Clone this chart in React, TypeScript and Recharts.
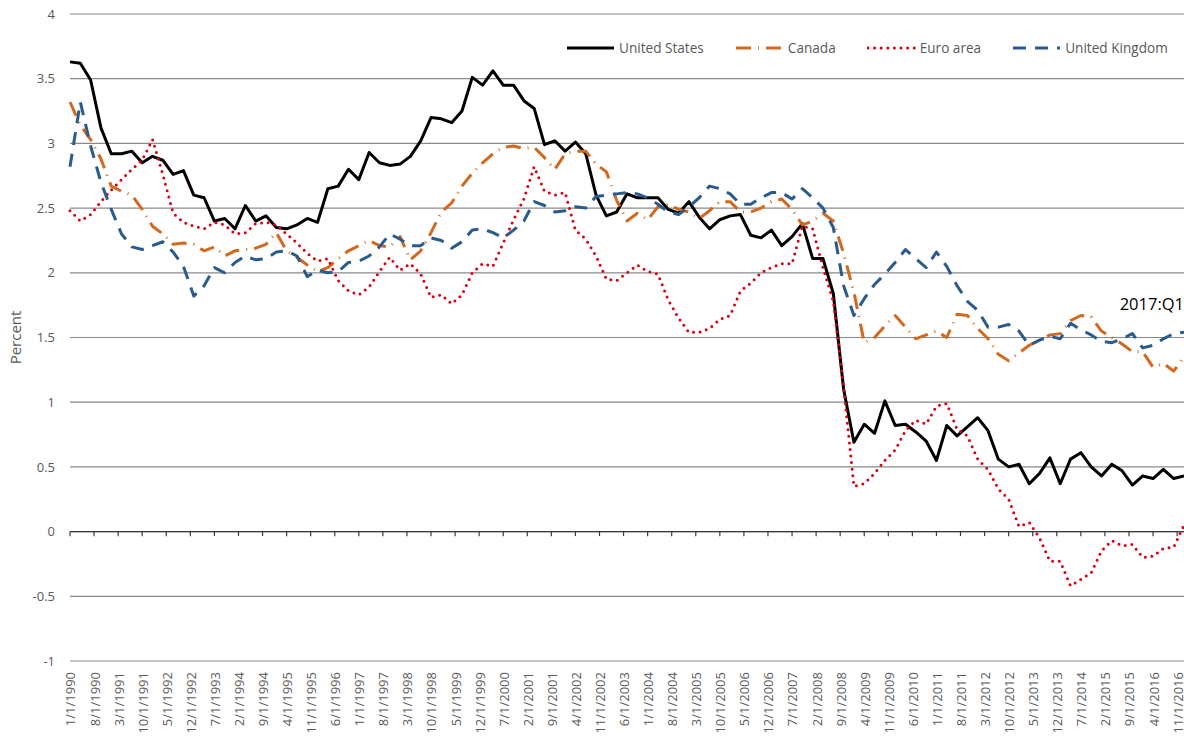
import {
  LineChart,
  Line,
  XAxis,
  YAxis,
  CartesianGrid,
  ReferenceLine,
  ReferenceDot,
} from "recharts";

// quarterly values, 1990:Q1 .. 2017:Q1 (percent)
const usValues = [
  3.63, 3.62, 3.49, 3.12, 2.92, 2.92, 2.94, 2.85, 2.9, 2.87, 2.76, 2.79, 2.6, 2.58, 2.4, 2.42,
  2.34, 2.52, 2.4, 2.44, 2.35, 2.34, 2.37, 2.42, 2.39, 2.65, 2.67, 2.8, 2.72, 2.93, 2.85, 2.83,
  2.84, 2.9, 3.02, 3.2, 3.19, 3.16, 3.25, 3.51, 3.45, 3.56, 3.45, 3.45, 3.33, 3.27, 2.99, 3.02,
  2.94, 3.01, 2.92, 2.6, 2.44, 2.47, 2.61, 2.58, 2.58, 2.58, 2.49, 2.46, 2.55, 2.43, 2.34, 2.41,
  2.44, 2.45, 2.29, 2.27, 2.33, 2.21, 2.28, 2.38, 2.11, 2.11, 1.84, 1.1, 0.69, 0.83, 0.76, 1.01,
  0.82, 0.83, 0.77, 0.7, 0.55, 0.82, 0.74, 0.81, 0.88, 0.78, 0.56, 0.5, 0.52, 0.37, 0.45, 0.57,
  0.37, 0.56, 0.61, 0.5, 0.43, 0.52, 0.47, 0.36, 0.43, 0.41, 0.48, 0.41, 0.43,
];

const canadaValues = [
  3.32, 3.14, 3.03, 2.88, 2.67, 2.63, 2.6, 2.49, 2.36, 2.3, 2.22, 2.23, 2.22, 2.17, 2.2, 2.13,
  2.17, 2.18, 2.19, 2.22, 2.31, 2.17, 2.12, 2.06, 2.01, 2.04, 2.11, 2.17, 2.21, 2.25, 2.21, 2.2,
  2.28, 2.1, 2.17, 2.31, 2.47, 2.54, 2.67, 2.77, 2.85, 2.92, 2.97, 2.98, 2.96, 2.97, 2.89, 2.8,
  2.92, 2.94, 2.94, 2.84, 2.78, 2.56, 2.4, 2.46, 2.41, 2.51, 2.53, 2.49, 2.47, 2.42, 2.48, 2.55,
  2.55, 2.47, 2.47, 2.5, 2.55, 2.57, 2.49, 2.37, 2.4, 2.46, 2.4, 2.15, 1.85, 1.46, 1.5, 1.59,
  1.67, 1.58, 1.49, 1.52, 1.55, 1.5, 1.68, 1.67, 1.57, 1.49, 1.37, 1.32, 1.38, 1.44, 1.48, 1.52,
  1.53, 1.63, 1.67, 1.66, 1.55, 1.5, 1.45, 1.39, 1.39, 1.27, 1.3, 1.24, 1.35,
];

const euroValues = [
  2.48, 2.4, 2.45, 2.55, 2.64, 2.72, 2.8, 2.87, 3.03, 2.76, 2.46, 2.39, 2.36, 2.34, 2.39, 2.37,
  2.3, 2.31, 2.38, 2.39, 2.37, 2.3, 2.23, 2.15, 2.09, 2.11, 1.94, 1.86, 1.83, 1.89, 2.01, 2.12,
  2.02, 2.07, 1.99, 1.81, 1.83, 1.76, 1.83, 2.0, 2.07, 2.05, 2.23, 2.41, 2.57, 2.82, 2.63, 2.6,
  2.62, 2.33, 2.26, 2.13, 1.95, 1.94, 2.0, 2.06, 2.01, 1.99, 1.79, 1.65, 1.54, 1.54, 1.57, 1.64,
  1.67, 1.86, 1.92, 2.0, 2.04, 2.07, 2.07, 2.36, 2.34, 2.04, 1.78, 1.12, 0.35, 0.37, 0.45, 0.55,
  0.63, 0.78, 0.86, 0.83, 0.97, 0.99, 0.79, 0.74, 0.56, 0.48, 0.33, 0.25, 0.04, 0.07, -0.05, -0.23,
  -0.23, -0.42, -0.37, -0.32, -0.15, -0.07, -0.11, -0.1, -0.2, -0.19, -0.13, -0.12, 0.05,
];

const ukValues = [
  2.82, 3.32, 2.98, 2.7, 2.49, 2.3, 2.2, 2.18, 2.21, 2.24, 2.16, 2.05, 1.82, 1.9, 2.04, 2.0,
  2.08, 2.13, 2.1, 2.11, 2.16, 2.17, 2.13, 1.97, 2.02, 2.0, 2.01, 2.08, 2.09, 2.13, 2.2, 2.3,
  2.26, 2.21, 2.21, 2.27, 2.25, 2.19, 2.24, 2.33, 2.34, 2.31, 2.27, 2.33, 2.4, 2.55, 2.52, 2.47,
  2.48, 2.51, 2.5, 2.59, 2.6, 2.61, 2.62, 2.61, 2.58, 2.53, 2.47, 2.45, 2.51, 2.58, 2.67, 2.65,
  2.61, 2.53, 2.53, 2.58, 2.62, 2.62, 2.57, 2.65, 2.58, 2.5, 2.35, 1.9, 1.67, 1.8, 1.91, 1.99,
  2.08, 2.18, 2.11, 2.04, 2.16, 2.05, 1.9, 1.78, 1.71, 1.58, 1.58, 1.6, 1.55, 1.44, 1.48, 1.51,
  1.49, 1.61, 1.56, 1.52, 1.47, 1.46, 1.49, 1.53, 1.42, 1.44, 1.49, 1.53, 1.54,
];

// axis labels, one every 7 months starting Jan 1990
const tickLabels = [
  "1/1/1990", "8/1/1990", "3/1/1991", "10/1/1991", "5/1/1992", "12/1/1992", "7/1/1993",
  "2/1/1994", "9/1/1994", "4/1/1995", "11/1/1995", "6/1/1996", "1/1/1997", "8/1/1997",
  "3/1/1998", "10/1/1998", "5/1/1999", "12/1/1999", "7/1/2000", "2/1/2001", "9/1/2001",
  "4/1/2002", "11/1/2002", "6/1/2003", "1/1/2004", "8/1/2004", "3/1/2005", "10/1/2005",
  "5/1/2006", "12/1/2006", "7/1/2007", "2/1/2008", "9/1/2008", "4/1/2009", "11/1/2009",
  "6/1/2010", "1/1/2011", "8/1/2011", "3/1/2012", "10/1/2012", "5/1/2013", "12/1/2013",
  "7/1/2014", "2/1/2015", "9/1/2015", "4/1/2016", "11/1/2016",
];

const yTicks = [-1, -0.5, 0, 0.5, 1, 1.5, 2, 2.5, 3, 3.5, 4];

const FONT = "'Open Sans', sans-serif";
const TEXT = "#595959";

// x = months since Jan 1990, one point per quarter
const data = usValues.map((v, i) => ({
  m: i * 3,
  us: v,
  canada: canadaValues[i],
  euro: euroValues[i],
  uk: ukValues[i],
}));

const xTicks = tickLabels.map((_, i) => i * 7);
const lastMonth = (usValues.length - 1) * 3;

const series = [
  { key: "us", name: "United States", color: "#000000", dash: undefined, cap: "butt" },
  { key: "canada", name: "Canada", color: "#D2691F", dash: "15 7 1 7", cap: "butt" },
  { key: "euro", name: "Euro area", color: "#D80012", dash: "0 6.6", cap: "round" },
  { key: "uk", name: "United Kingdom", color: "#2A5B8C", dash: "13 9", cap: "butt" },
];

const DateTick = (props: any) => {
  const { x, y, payload } = props;
  return (
    <text
      x={x}
      y={y}
      transform={`rotate(-90, ${x}, ${y})`}
      textAnchor="end"
      dy="0.42em"
      fill={TEXT}
      fontSize={13}
      fontFamily={FONT}
    >
      {tickLabels[Math.round(payload.value / 7)]}
    </text>
  );
};

const PercentLabel = (props: any) => {
  const { viewBox } = props;
  const cx = 15;
  const cy = viewBox.y + viewBox.height / 2;
  return (
    <text
      x={cx}
      y={cy}
      transform={`rotate(-90, ${cx}, ${cy})`}
      textAnchor="middle"
      dominantBaseline="central"
      fill={TEXT}
      fontSize={15}
      fontFamily={FONT}
    >
      Percent
    </text>
  );
};

const ChartLegend = () => (
  <div
    style={{
      position: "absolute",
      left: 566,
      top: 38,
      display: "flex",
      alignItems: "center",
      fontFamily: FONT,
      fontSize: 13.6,
      color: TEXT,
      whiteSpace: "nowrap",
    }}
  >
    {series.map((s) => (
      <div key={s.key} style={{ display: "flex", alignItems: "center", marginRight: 31 }}>
        <svg width={49} height={18}>
          <line
            x1={1}
            y1={9}
            x2={48}
            y2={9}
            stroke={s.color}
            strokeWidth={3}
            strokeDasharray={s.dash}
            strokeLinecap={s.cap as any}
          />
        </svg>
        <span style={{ marginLeft: 4 }}>{s.name}</span>
      </div>
    ))}
  </div>
);

export default function App() {
  return (
    <div style={{ position: "absolute", left: 0, top: 0, width: 1184, height: 742, background: "#fff" }}>
      <LineChart width={1184} height={742} data={data} margin={{ top: 14, right: 0, bottom: 0, left: 0 }}>
        <CartesianGrid vertical={false} stroke="#8a8a8a" strokeWidth={1.2} />
        <XAxis
          dataKey="m"
          type="number"
          domain={[0, lastMonth]}
          ticks={xTicks}
          interval={0}
          height={81}
          axisLine={false}
          tickLine={false}
          tickSize={0}
          tickMargin={11}
          tick={<DateTick />}
        />
        <YAxis
          type="number"
          domain={[-1, 4]}
          ticks={yTicks}
          interval={0}
          width={70}
          axisLine={false}
          tickLine={false}
          tickSize={0}
          tickMargin={15}
          tick={{ fill: TEXT, fontSize: 13, fontFamily: FONT }}
          label={<PercentLabel />}
        />
        <ReferenceLine y={0} stroke="#3a3a3a" strokeWidth={1.3} />
        {xTicks.map((t) => (
          <ReferenceLine
            key={`tick-${t}`}
            segment={[
              { x: t, y: 0 },
              { x: t, y: -0.035 },
            ]}
            stroke="#3a3a3a"
            strokeWidth={1.2}
          />
        ))}
        {series.map((s) => (
          <Line
            key={s.key}
            type="linear"
            dataKey={s.key}
            name={s.name}
            stroke={s.color}
            strokeWidth={3}
            strokeDasharray={s.dash}
            strokeLinecap={s.cap as any}
            strokeLinejoin="round"
            dot={false}
            activeDot={false}
            isAnimationActive={false}
          />
        ))}
        <ReferenceDot
          x={lastMonth}
          y={1.76}
          r={0}
          fill="none"
          stroke="none"
          label={{
            value: "2017:Q1",
            position: "left",
            offset: 0,
            fill: "#000",
            fontSize: 16.5,
            fontFamily: FONT,
          }}
        />
      </LineChart>
      <ChartLegend />
    </div>
  );
}
